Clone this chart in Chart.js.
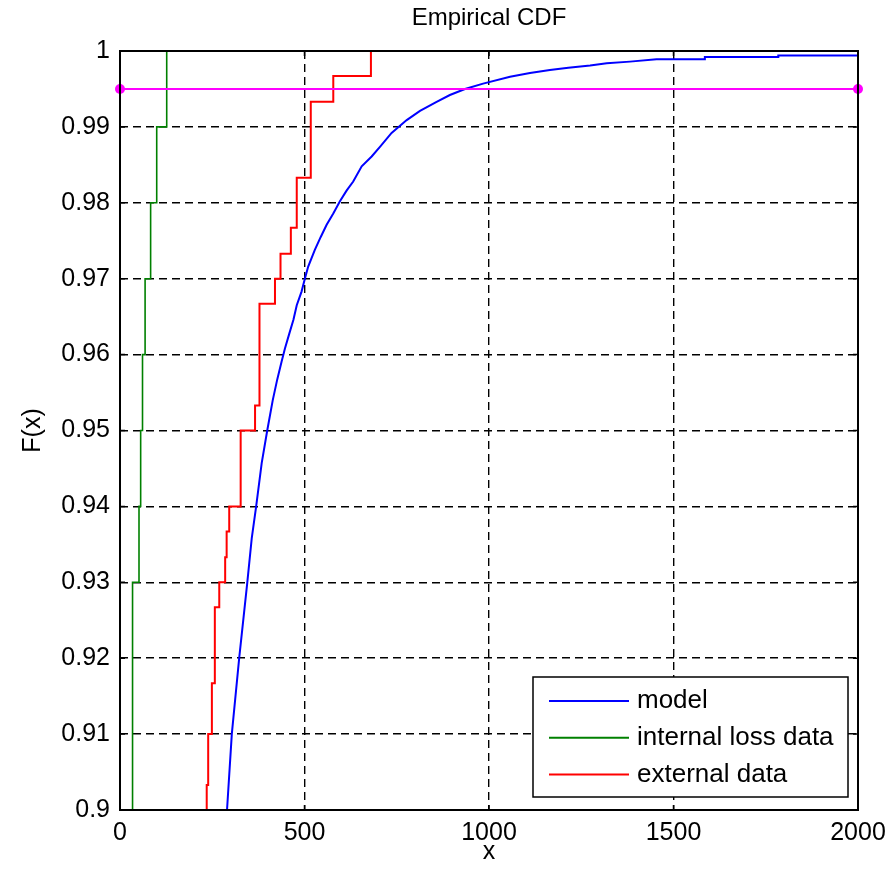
<!DOCTYPE html>
<html lang="en">
<head>
<meta charset="UTF-8">
<title>Empirical CDF</title>
<script src="https://cdn.jsdelivr.net/npm/chart.js"></script>
<style>
  body { margin: 0; background: #fff; }
  .wrap { width: 889px; height: 877px; position: relative; }
</style>
</head>
<body>
<div class="wrap"><canvas id="cdfChart"></canvas></div>
<script>
  // model curve
  const modelX = [290, 303, 323, 345, 357, 369, 384, 399, 414, 426, 438, 447, 459, 470, 479, 492, 501, 510, 528, 544, 560, 578, 596, 614, 632, 655, 682, 705, 736, 777, 813, 858, 894, 935, 984, 1057, 1111, 1165, 1215, 1274, 1319, 1382, 1454, 1585, 1585, 1784, 1784, 2000];
  const modelF = [0.900, 0.910, 0.920, 0.930, 0.9358, 0.940, 0.9457, 0.950, 0.954, 0.9567, 0.9591, 0.9608, 0.9628, 0.9646, 0.9665, 0.9683, 0.970, 0.9716, 0.9738, 0.9755, 0.9771, 0.9786, 0.9802, 0.9816, 0.9828, 0.9848, 0.9861, 0.9874, 0.9892, 0.9909, 0.9921, 0.9933, 0.9942, 0.9950, 0.9957, 0.9966, 0.9971, 0.9975, 0.9978, 0.9981, 0.9984, 0.9986, 0.9989, 0.9989, 0.9992, 0.9992, 0.9994, 0.9994];

  // internal loss data ecdf steps
  const internalX = [34, 34, 51.5, 56, 61, 68, 83, 99.5, 126.6];
  const internalF = [0.90, 0.93, 0.94, 0.95, 0.96, 0.97, 0.98, 0.99, 1.00];

  // external data ecdf steps
  const externalX = [235, 235, 239, 249, 257, 269, 285, 289, 296, 327, 366, 378, 420, 435, 463, 479, 517, 578, 680];
  const externalF = [0.9, 0.9033, 0.9100, 0.9167, 0.9267, 0.9300, 0.9333, 0.9367, 0.9400, 0.9500, 0.9533, 0.9667, 0.9700, 0.9733, 0.9767, 0.9833, 0.9933, 0.9967, 1.0];

  // horizontal level line
  const levelX = [0, 2000];
  const levelF = [0.995, 0.995];

  const xTicks = [0, 500, 1000, 1500, 2000];
  const xTickLabels = ['0', '500', '1000', '1500', '2000'];
  const yTicks = [0.9, 0.91, 0.92, 0.93, 0.94, 0.95, 0.96, 0.97, 0.98, 0.99, 1];
  const yTickLabels = ['0.9', '0.91', '0.92', '0.93', '0.94', '0.95', '0.96', '0.97', '0.98', '0.99', '1'];

  const chartTitle = 'Empirical CDF';
  const FONT = "'Liberation Sans', Arial, sans-serif";
  const pts = (xs, ys) => xs.map((x, i) => ({ x: x, y: ys[i] }));

  // title over the plot, axes box, inward ticks and the legend (matlab style)
  const boxPlugin = {
    id: 'boxAndLegend',
    afterDatasetsDraw(chart) {
      const { ctx, chartArea: a, scales } = chart;
      ctx.save();
      ctx.setLineDash([]);

      ctx.fillStyle = '#000';
      ctx.font = '24px ' + FONT;
      ctx.textAlign = 'center';
      ctx.textBaseline = 'middle';
      ctx.fillText(chartTitle, (a.left + a.right) / 2, 18);
      ctx.textAlign = 'left';

      ctx.strokeStyle = '#000';
      ctx.lineWidth = 1.5;
      xTicks.forEach(v => {
        const px = scales.x.getPixelForValue(v);
        ctx.beginPath();
        ctx.moveTo(px, a.bottom); ctx.lineTo(px, a.bottom - 5);
        ctx.moveTo(px, a.top); ctx.lineTo(px, a.top + 5);
        ctx.stroke();
      });
      yTicks.forEach(v => {
        const py = scales.y.getPixelForValue(v);
        ctx.beginPath();
        ctx.moveTo(a.left, py); ctx.lineTo(a.left + 5, py);
        ctx.moveTo(a.right, py); ctx.lineTo(a.right - 5, py);
        ctx.stroke();
      });
      ctx.lineWidth = 2;
      ctx.strokeRect(a.left, a.top, a.right - a.left, a.bottom - a.top);

      // legend box
      const bw = 315, bh = 120;
      const bx = a.right - 325, by = a.bottom - 133;
      ctx.fillStyle = '#fff';
      ctx.fillRect(bx, by, bw, bh);
      ctx.lineWidth = 1.5;
      ctx.strokeRect(bx, by, bw, bh);
      ctx.font = '26px ' + FONT;
      ctx.textBaseline = 'middle';
      let row = 0;
      chart.data.datasets.forEach(ds => {
        if (!ds.inLegend) return;
        const ly = by + 24 + row * 36.7;
        ctx.strokeStyle = ds.borderColor;
        ctx.lineWidth = 2;
        ctx.beginPath();
        ctx.moveTo(bx + 16, ly); ctx.lineTo(bx + 96, ly);
        ctx.stroke();
        ctx.fillStyle = '#000';
        ctx.fillText(ds.label, bx + 104, ly);
        row++;
      });
      ctx.restore();
    }
  };

  const cdfCtx = document.getElementById('cdfChart').getContext('2d');
  const cdfChart = new Chart(cdfCtx, {
    type: 'line',
    data: {
      datasets: [{
        label: 'level',
        data: pts(levelX, levelF),
        borderColor: '#ff00ff',
        backgroundColor: '#ff00ff',
        borderWidth: 2,
        pointRadius: 5,
        pointBackgroundColor: '#ff00ff',
        pointBorderWidth: 0,
        clip: false,
        order: 0
      }, {
        label: 'model',
        inLegend: true,
        data: pts(modelX, modelF),
        borderColor: '#0000ff',
        borderWidth: 2,
        pointRadius: 0,
        tension: 0,
        order: 3
      }, {
        label: 'internal loss data',
        inLegend: true,
        data: pts(internalX, internalF),
        borderColor: '#008000',
        borderWidth: 1.6,
        pointRadius: 0,
        stepped: 'before',
        order: 2
      }, {
        label: 'external data',
        inLegend: true,
        data: pts(externalX, externalF),
        borderColor: '#ff0000',
        borderWidth: 2,
        pointRadius: 0,
        stepped: 'before',
        order: 1
      }]
    },
    options: {
      responsive: true,
      maintainAspectRatio: false,
      animation: false,
      layout: { padding: { left: 0, right: 31, top: 51, bottom: 0 } },
      plugins: {
        legend: { display: false },
        tooltip: { enabled: false },
        title: { display: false }
      },
      scales: {
        x: {
          type: 'linear',
          min: 0,
          max: 2000,
          afterFit: s => { s.height = 67; s.paddingLeft = 0; s.paddingRight = 0; },
          afterBuildTicks: s => { s.ticks = xTicks.map(v => ({ value: v })); },
          border: { display: false, dash: [8, 5] },
          grid: { color: '#000', lineWidth: 1.4, drawTicks: false },
          ticks: {
            color: '#000',
            padding: 8,
            maxRotation: 0,
            font: { family: FONT, size: 25 },
            callback: (v, i) => xTickLabels[i]
          },
          title: {
            display: true,
            text: 'x',
            color: '#000',
            font: { family: FONT, size: 25 },
            padding: { top: 0, bottom: 10 }
          }
        },
        y: {
          type: 'linear',
          min: 0.9,
          max: 1,
          afterFit: s => { s.width = 120; s.paddingTop = 0; s.paddingBottom = 0; },
          afterBuildTicks: s => { s.ticks = yTicks.map(v => ({ value: v })); },
          border: { display: false, dash: [8, 5] },
          grid: { color: '#000', lineWidth: 1.4, drawTicks: false },
          ticks: {
            color: '#000',
            padding: 10,
            font: { family: FONT, size: 25 },
            callback: (v, i) => yTickLabels[i]
          },
          title: {
            display: true,
            text: 'F(x)',
            color: '#000',
            font: { family: FONT, size: 25 },
            padding: { top: 18, bottom: 18 }
          }
        }
      }
    },
    plugins: [boxPlugin]
  });
</script>
</body>
</html>
